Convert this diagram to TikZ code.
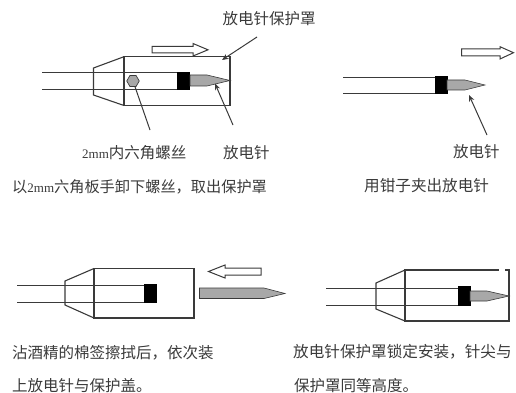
\documentclass[tikz,border=0pt]{standalone}
\usepackage{fontspec}
\setmainfont{Liberation Serif}
\newfontfamily\cjk{Noto Sans CJK SC}
\newfontfamily\latinpart{Liberation Serif}
\usetikzlibrary{arrows.meta,shapes.geometric}
\definecolor{ink}{HTML}{3A3A3A}
\definecolor{needlegray}{HTML}{A8A8A8}
\newcommand{\numtext}[1]{{\latinpart\fontsize{13}{13}\selectfont #1}}
\tikzset{
  x=1pt,y=-1pt,
  wire/.style={draw=ink,line width=1pt},
  body/.style={draw=ink,line width=1.1pt,line join=miter},
  collar/.style={fill=black,draw=none},
  needle/.style={fill=needlegray,draw=ink,line width=0.6pt},
  hollow/.style={draw=ink,fill=white,line width=1pt},
  leader/.style={draw=ink,line width=1pt},
  pointer/.style={leader,-{Stealth[length=6.5pt,width=5.5pt]}},
  label/.style={anchor=west,inner sep=0pt,text=ink,font=\cjk\fontsize{15.5}{18}\selectfont},
  caption/.style={anchor=west,inner sep=0pt,text=ink,font=\cjk\fontsize{15.2}{18}\selectfont},
}
\begin{document}
\begin{tikzpicture}
\useasboundingbox (0,0) rectangle (516,393);
% --- Panel 1
\draw[wire] (42,73) -- (177,73);
\draw[wire] (42,89.5) -- (177,89.5);
\draw[body] (124,56.7) -- (93.5,68) -- (93.5,95) -- (124,105.5);
\draw[body] (124,56.7) rectangle (230,105.5);
\fill[collar] (177,72) rectangle (190,90);
\draw[needle] (190,75) -- (207,75) -- (230,80.5) -- (207,86) -- (190,86) -- cycle;
\node[draw=ink,fill=needlegray,line width=0.7pt,regular polygon,regular polygon sides=6,minimum size=12.5pt,inner sep=0pt] (hexa) at (133,81) {};
\draw[hollow] (152,46.5) -- (193,46.5) -- (193,43.5) -- (208,49.8) -- (193,56) -- (193,53) -- (152,53) -- cycle;
\node[label] (covername) at (222.5,19) {放电针保护罩};
\coordinate (coverfrom) at (257,37);
\coordinate (coverto) at (222,60);
\draw[pointer] (coverfrom) -- (coverto);
\coordinate (hexfrom) at (150,130);
\draw[leader] (hexfrom) -- (hexa);
\coordinate (needlefrom) at (233,125);
\coordinate (needleto) at (215,83.5);
\draw[pointer] (needlefrom) -- (needleto);
\node[label] (hexname) at (82,153) {\numtext{2mm}内六角螺丝};
\node[label] (needlename) at (223,153) {放电针};
\node[caption] (capa) at (12,187) {以\numtext{2mm}六角板手卸下螺丝，取出保护罩};
% --- Panel 2
\draw[wire] (343,78) -- (436,78);
\draw[wire] (343,93.5) -- (436,93.5);
\fill[collar] (435,76.5) rectangle (447.5,94);
\draw[needle] (447,80) -- (465,80) -- (485,85) -- (465,90) -- (447,90) -- cycle;
\draw[hollow] (461.5,49) -- (500,49) -- (500,46.7) -- (513.5,52.7) -- (500,59) -- (500,56) -- (461.5,56) -- cycle;
\coordinate (bfrom) at (487,135);
\coordinate (bto) at (469,95);
\draw[pointer] (bfrom) -- (bto);
\node[label] (bname) at (453,152) {放电针};
\node[caption,font=\cjk\fontsize{15.6}{18}\selectfont] (capb) at (364,186) {用钳子夹出放电针};
% --- Panel 3
\draw[wire] (17,285) -- (145,285);
\draw[wire] (17,302) -- (145,302);
\draw[body] (94,268.5) -- (65,281) -- (65,305) -- (94,318);
\draw[body] (94,268.5) rectangle (194,318);
\fill[collar] (144,284) rectangle (157,302.5);
\draw[needle] (199.5,288) -- (264,288) -- (285,293.5) -- (264,298.5) -- (199.5,298.5) -- cycle;
\draw[hollow] (261,268) -- (225,268) -- (225,265) -- (208.5,271.5) -- (225,278) -- (225,275) -- (261,275) -- cycle;
\node[label] (capc) at (12,353) {沾酒精的棉签擦拭后，依次装};
\node[label] (capd) at (12,386) {上放电针与保护盖。};
% --- Panel 4
\draw[wire] (326,288) -- (459,288);
\draw[wire] (326,305) -- (459,305);
\draw[body] (405,270) -- (376,283) -- (376,309) -- (405,321);
\draw[body] (505,270) -- (509,270) -- (509,321) -- (405,321) -- (405,270) -- (499,270);
\fill[collar] (458,286) rectangle (470.5,305.5);
\draw[needle] (470,291) -- (487,291) -- (509,296) -- (487,301) -- (470,301) -- cycle;
\node[label,font=\cjk\fontsize{15.6}{18}\selectfont] (cape) at (293,352) {放电针保护罩锁定安装，针尖与};
\node[label] (capf) at (294,386) {保护罩同等高度。};
\end{tikzpicture}
\end{document}
